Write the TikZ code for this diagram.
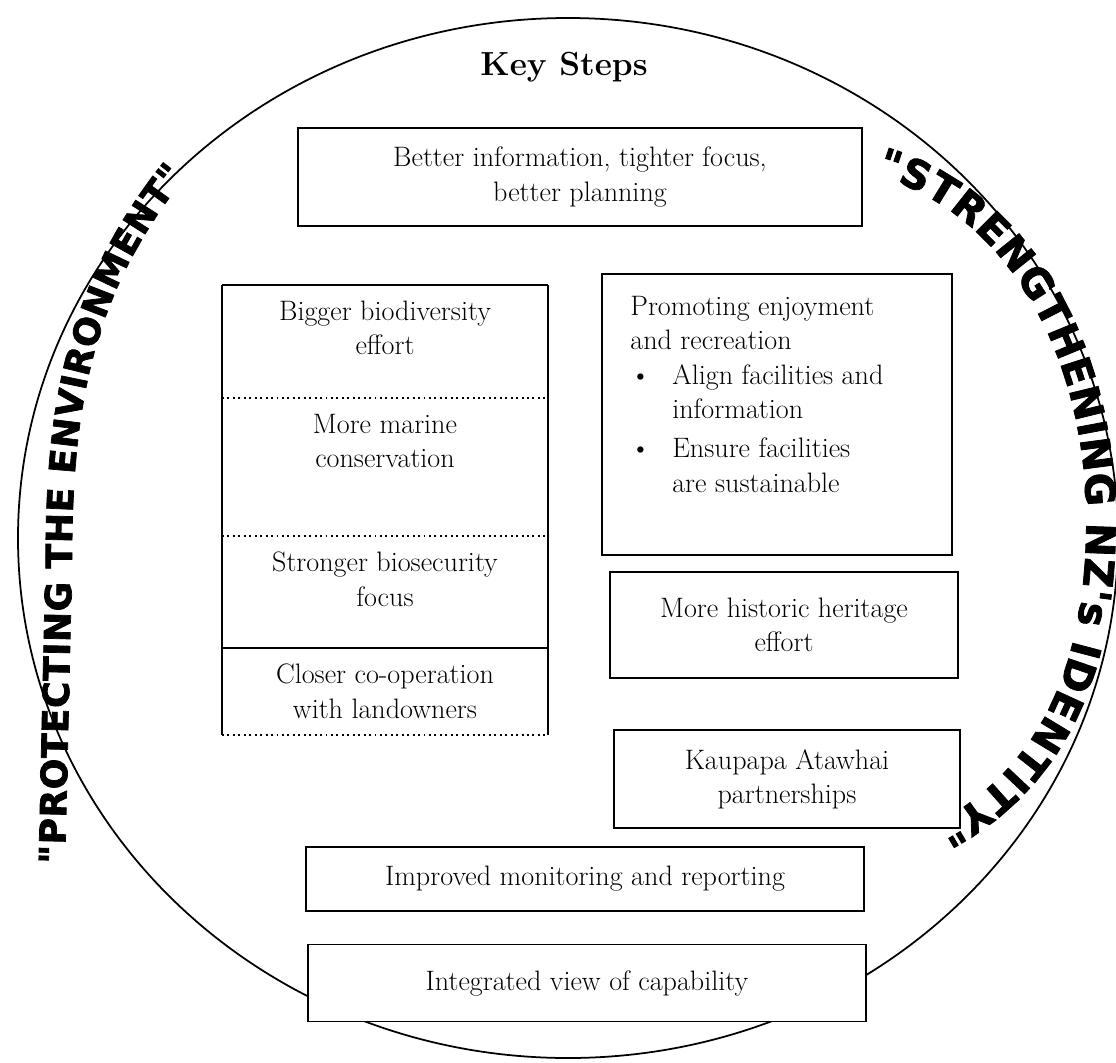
\documentclass[tikz,border=0pt]{standalone}
\usepackage{fontspec}
\newfontfamily\arcfont{DejaVu Sans}[FakeBold=2]
\usetikzlibrary{positioning, decorations.text}

\begin{document}
\begin{tikzpicture}[x=0.02cm, y=-0.02cm, font=\fontsize{16}{19.5}\selectfont]
  \tikzstyle{stepbox}=[draw, line width=1.1pt, fill=white, align=center, inner sep=0pt, outer sep=0pt]
  \tikzstyle{cell}=[minimum width=6.52cm, inner sep=0pt, outer sep=0pt]
  \tikzstyle{celltext}=[align=center, anchor=north]
  \tikzstyle{listtext}=[align=left, inner sep=0pt]
  \tikzstyle{frameline}=[line width=1.1pt]
  \tikzstyle{divider}=[dotted, line width=1.1pt]
  \useasboundingbox (0,0) rectangle (1116,1062);

  % outer ring
  \draw[line width=1pt] (568,538) ellipse [x radius=550, y radius=520];

  % mottos round the ring (clockwise, letters face outwards)
  \path[decorate, decoration={text along path, text align=fit to path,
      text={|\arcfont\bfseries\fontsize{20.5}{20.5}\selectfont|"PROTECTING THE ENVIRONMENT"}}]
    (65,864) -- (72,560) .. controls (72,400) and (95,290) .. (186,176);
  \path[decorate, decoration={text along path, text align=fit to path,
      text={|\arcfont\bfseries\fontsize{23}{23}\selectfont|"STRENGTHENING NZ's IDENTITY"}}]
    (876,175) .. controls (1015,215) and (1092,370) .. (1086,540)
              .. controls (1082,680) and (1032,772) .. (936,824);

  % heading and top box
  \node[font=\fontsize{19}{23}\selectfont\bfseries] (title) at (564,67) {Key Steps};
  \node[stepbox, minimum width=11.28cm, minimum height=1.96cm] (plan) at (580,177) {Better information, tighter focus,\\better planning};

  % left column: stacked cells (top -> bottom)
  \node[cell, minimum height=2.26cm, anchor=north] (biodiv) at (385,285) {};
  \node[cell, minimum height=2.76cm, below=0pt of biodiv] (marine) {};
  \node[cell, minimum height=2.24cm, below=0pt of marine] (biosec) {};
  \node[cell, minimum height=1.74cm, below=0pt of biosec] (coop) {};

  \node[celltext, below=0.2cm of biodiv.north] (biodivtxt) {Bigger biodiversity\\effort};
  \node[celltext, below=0.2cm of marine.north] (marinetxt) {More marine\\conservation};
  \node[celltext, below=0.2cm of biosec.north] (biosectxt) {Stronger biosecurity\\focus};
  \node[celltext, below=0.2cm of coop.north] (cooptxt) {Closer co-operation\\with landowners};

  \draw[frameline] (biodiv.north west) -- (biodiv.north east);
  \draw[frameline] (biodiv.north west) -- (coop.south west);
  \draw[frameline] (biodiv.north east) -- (coop.south east);
  \draw[divider] (biodiv.south west) -- (biodiv.south east);
  \draw[divider] (marine.south west) -- (marine.south east);
  \draw[frameline] (biosec.south west) -- (biosec.south east);
  \draw[divider] (coop.south west) -- (coop.south east);

  % right column
  \node[stepbox, anchor=north west, minimum width=7cm, minimum height=5.62cm] (enjoy) at (602,274) {};
  \node[listtext, below right=0.44cm and 0.56cm of enjoy.north west] (enjoytxt)
    {Promoting enjoyment\\and recreation\\
     \makebox[0.84cm][l]{\textbullet}Align facilities and\\
     \hspace*{0.84cm}information\\[3pt]
     \makebox[0.84cm][l]{\textbullet}Ensure facilities\\
     \hspace*{0.84cm}are sustainable};
  \node[stepbox, minimum width=6.96cm, minimum height=2.12cm] (heritage) at (784,625) {More historic heritage\\effort};
  \node[stepbox, minimum width=6.92cm, minimum height=1.96cm] (kaupapa) at (787,779) {Kaupapa Atawhai\\partnerships};

  % bottom rows
  \node[stepbox, minimum width=11.16cm, minimum height=1.28cm] (monitor) at (585,879) {Improved monitoring and reporting};
  \node[stepbox, minimum width=11.16cm, minimum height=1.54cm] (capability) at (587,983) {Integrated view of capability};
\end{tikzpicture}
\end{document}
